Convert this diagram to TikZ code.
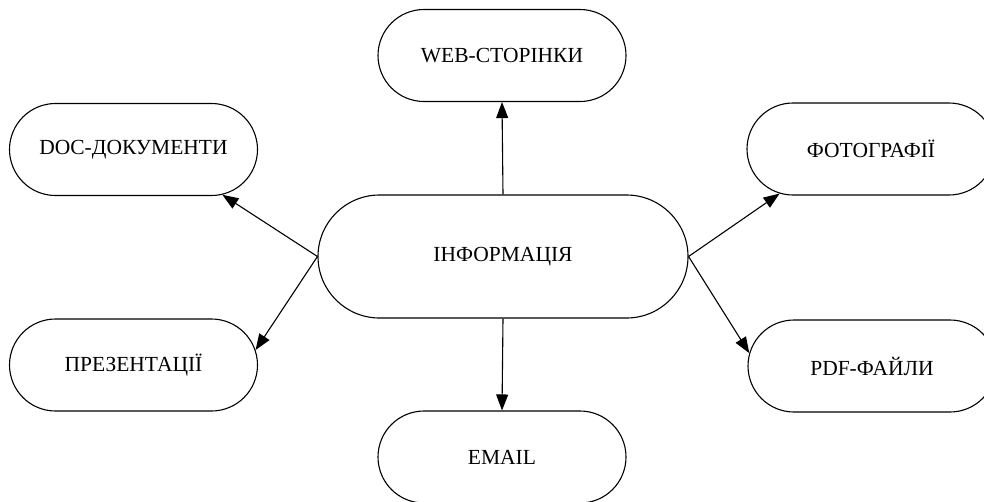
\documentclass[tikz,border=0pt]{standalone}
\usepackage{fontspec}
\setmainfont{Liberation Serif}
\usetikzlibrary{shapes.misc,arrows.meta}
\begin{document}
\begin{tikzpicture}[x=1pt,y=-1pt,
  pill/.style={draw, rounded rectangle, line width=1.1pt, minimum width=248pt, minimum height=92pt, inner sep=0pt, font=\fontsize{21.5}{25}\selectfont},
  arr/.style={line width=1.1pt, -{Triangle[length=16pt,width=12pt]}}]
\useasboundingbox (0,0) rectangle (984,501);
\clip (0,0) rectangle (984,501);
\node[pill] (info) at (503,256.5) [minimum width=370pt, minimum height=123pt] {ІНФОРМАЦІЯ};
\node[pill] (web) at (502,55.5) {WEB-СТОРІНКИ};
\node[pill] (doc) at (133.5,149.5) {DOC-ДОКУМЕНТИ};
\node[pill] (foto) at (871,149) {ФОТОГРАФІЇ};
\node[pill] (pres) at (133.5,365) {ПРЕЗЕНТАЦІЇ};
\node[pill] (pdf) at (872,366) {PDF-ФАЙЛИ};
\node[pill] (email) at (502,457) {EMAIL};
\draw[arr] (info.north) -- (web.south);
\draw[arr] (info.south) -- (email.north);
\draw[arr] (info.west) -- (doc.-27);
\draw[arr] (info.west) -- (pres.7);
\draw[arr] (info.east) -- (foto.206);
\draw[arr] (info.east) -- (pdf.174);
\end{tikzpicture}
\end{document}
